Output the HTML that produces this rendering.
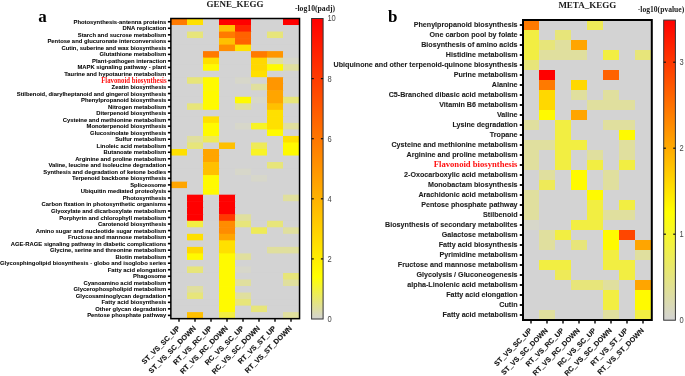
<!DOCTYPE html>
<html><head><meta charset="utf-8"><style>
html,body{margin:0;padding:0;background:#fff;width:685px;height:376px;overflow:hidden;}
body{position:relative;font-family:"Liberation Sans",sans-serif;}
</style></head><body>
<svg width="685" height="376" viewBox="0 0 685 376" style="position:absolute;left:0;top:0;will-change:transform">
<defs>
<linearGradient id="gl" x1="0" y1="1" x2="0" y2="0"><stop offset="0" stop-color="#d3d3d3"/><stop offset="0.14" stop-color="#ffff00"/><stop offset="1" stop-color="#ff0000"/></linearGradient>
<linearGradient id="gr" x1="0" y1="1" x2="0" y2="0"><stop offset="0" stop-color="#d3d3d3"/><stop offset="0.36" stop-color="#ffff00"/><stop offset="1" stop-color="#ff0000"/></linearGradient>
</defs>
<rect x="171.0" y="18.5" width="128.00" height="300.15" fill="#d3d3d3"/>
<rect x="171.00" y="18.50" width="16.60" height="7.12" fill="#ff7a00"/>
<rect x="187.00" y="18.50" width="16.60" height="7.12" fill="#ffe000"/>
<rect x="203.00" y="18.50" width="16.60" height="7.12" fill="#d3d3d3"/>
<rect x="219.00" y="18.50" width="16.60" height="7.12" fill="#ff0000"/>
<rect x="235.00" y="18.50" width="16.60" height="7.12" fill="#ff0000"/>
<rect x="251.00" y="18.50" width="16.60" height="7.12" fill="#d3d3d3"/>
<rect x="267.00" y="18.50" width="16.60" height="7.12" fill="#d3d3d3"/>
<rect x="283.00" y="18.50" width="16.60" height="7.12" fill="#ff0000"/>
<rect x="171.00" y="25.02" width="16.60" height="7.12" fill="#d3d3d3"/>
<rect x="187.00" y="25.02" width="16.60" height="7.12" fill="#d3d3d3"/>
<rect x="203.00" y="25.02" width="16.60" height="7.12" fill="#d3d3d3"/>
<rect x="219.00" y="25.02" width="16.60" height="7.12" fill="#ffc000"/>
<rect x="235.00" y="25.02" width="16.60" height="7.12" fill="#ff2400"/>
<rect x="251.00" y="25.02" width="16.60" height="7.12" fill="#d3d3d3"/>
<rect x="267.00" y="25.02" width="16.60" height="7.12" fill="#d3d3d3"/>
<rect x="283.00" y="25.02" width="16.60" height="7.12" fill="#d3d3d3"/>
<rect x="171.00" y="31.55" width="16.60" height="7.12" fill="#d3d3d3"/>
<rect x="187.00" y="31.55" width="16.60" height="7.12" fill="#e7e57a"/>
<rect x="203.00" y="31.55" width="16.60" height="7.12" fill="#d3d3d3"/>
<rect x="219.00" y="31.55" width="16.60" height="7.12" fill="#ff7a00"/>
<rect x="235.00" y="31.55" width="16.60" height="7.12" fill="#ff6200"/>
<rect x="251.00" y="31.55" width="16.60" height="7.12" fill="#d3d3d3"/>
<rect x="267.00" y="31.55" width="16.60" height="7.12" fill="#e7e57a"/>
<rect x="283.00" y="31.55" width="16.60" height="7.12" fill="#d3d3d3"/>
<rect x="171.00" y="38.08" width="16.60" height="7.12" fill="#d3d3d3"/>
<rect x="187.00" y="38.08" width="16.60" height="7.12" fill="#d3d3d3"/>
<rect x="203.00" y="38.08" width="16.60" height="7.12" fill="#d3d3d3"/>
<rect x="219.00" y="38.08" width="16.60" height="7.12" fill="#ffc000"/>
<rect x="235.00" y="38.08" width="16.60" height="7.12" fill="#ff6200"/>
<rect x="251.00" y="38.08" width="16.60" height="7.12" fill="#d3d3d3"/>
<rect x="267.00" y="38.08" width="16.60" height="7.12" fill="#d3d3d3"/>
<rect x="283.00" y="38.08" width="16.60" height="7.12" fill="#d3d3d3"/>
<rect x="171.00" y="44.60" width="16.60" height="7.12" fill="#d3d3d3"/>
<rect x="187.00" y="44.60" width="16.60" height="7.12" fill="#d3d3d3"/>
<rect x="203.00" y="44.60" width="16.60" height="7.12" fill="#d3d3d3"/>
<rect x="219.00" y="44.60" width="16.60" height="7.12" fill="#ff8c00"/>
<rect x="235.00" y="44.60" width="16.60" height="7.12" fill="#ffe000"/>
<rect x="251.00" y="44.60" width="16.60" height="7.12" fill="#d3d3d3"/>
<rect x="267.00" y="44.60" width="16.60" height="7.12" fill="#d3d3d3"/>
<rect x="283.00" y="44.60" width="16.60" height="7.12" fill="#d3d3d3"/>
<rect x="171.00" y="51.12" width="16.60" height="7.12" fill="#d3d3d3"/>
<rect x="187.00" y="51.12" width="16.60" height="7.12" fill="#d3d3d3"/>
<rect x="203.00" y="51.12" width="16.60" height="7.12" fill="#ff7a00"/>
<rect x="219.00" y="51.12" width="16.60" height="7.12" fill="#d3d3d3"/>
<rect x="235.00" y="51.12" width="16.60" height="7.12" fill="#d3d3d3"/>
<rect x="251.00" y="51.12" width="16.60" height="7.12" fill="#ff7a00"/>
<rect x="267.00" y="51.12" width="16.60" height="7.12" fill="#ff9600"/>
<rect x="283.00" y="51.12" width="16.60" height="7.12" fill="#d3d3d3"/>
<rect x="171.00" y="57.65" width="16.60" height="7.12" fill="#d3d3d3"/>
<rect x="187.00" y="57.65" width="16.60" height="7.12" fill="#d3d3d3"/>
<rect x="203.00" y="57.65" width="16.60" height="7.12" fill="#ffe000"/>
<rect x="219.00" y="57.65" width="16.60" height="7.12" fill="#d3d3d3"/>
<rect x="235.00" y="57.65" width="16.60" height="7.12" fill="#d3d3d3"/>
<rect x="251.00" y="57.65" width="16.60" height="7.12" fill="#ffd800"/>
<rect x="267.00" y="57.65" width="16.60" height="7.12" fill="#e0df9e"/>
<rect x="283.00" y="57.65" width="16.60" height="7.12" fill="#d7d7ca"/>
<rect x="171.00" y="64.18" width="16.60" height="7.12" fill="#d3d3d3"/>
<rect x="187.00" y="64.18" width="16.60" height="7.12" fill="#d3d3d3"/>
<rect x="203.00" y="64.18" width="16.60" height="7.12" fill="#fffa00"/>
<rect x="219.00" y="64.18" width="16.60" height="7.12" fill="#d3d3d3"/>
<rect x="235.00" y="64.18" width="16.60" height="7.12" fill="#d3d3d3"/>
<rect x="251.00" y="64.18" width="16.60" height="7.12" fill="#ffd800"/>
<rect x="267.00" y="64.18" width="16.60" height="7.12" fill="#fffa00"/>
<rect x="283.00" y="64.18" width="16.60" height="7.12" fill="#e0df9e"/>
<rect x="171.00" y="70.70" width="16.60" height="7.12" fill="#d3d3d3"/>
<rect x="187.00" y="70.70" width="16.60" height="7.12" fill="#d3d3d3"/>
<rect x="203.00" y="70.70" width="16.60" height="7.12" fill="#d3d3d3"/>
<rect x="219.00" y="70.70" width="16.60" height="7.12" fill="#d3d3d3"/>
<rect x="235.00" y="70.70" width="16.60" height="7.12" fill="#d3d3d3"/>
<rect x="251.00" y="70.70" width="16.60" height="7.12" fill="#ffe000"/>
<rect x="267.00" y="70.70" width="16.60" height="7.12" fill="#d3d3d3"/>
<rect x="283.00" y="70.70" width="16.60" height="7.12" fill="#d3d3d3"/>
<rect x="171.00" y="77.22" width="16.60" height="7.12" fill="#d3d3d3"/>
<rect x="187.00" y="77.22" width="16.60" height="7.12" fill="#e7e57a"/>
<rect x="203.00" y="77.22" width="16.60" height="7.12" fill="#fffa00"/>
<rect x="219.00" y="77.22" width="16.60" height="7.12" fill="#d3d3d3"/>
<rect x="235.00" y="77.22" width="16.60" height="7.12" fill="#d7d7ca"/>
<rect x="251.00" y="77.22" width="16.60" height="7.12" fill="#d3d3d3"/>
<rect x="267.00" y="77.22" width="16.60" height="7.12" fill="#ff9600"/>
<rect x="283.00" y="77.22" width="16.60" height="7.12" fill="#d3d3d3"/>
<rect x="171.00" y="83.75" width="16.60" height="7.12" fill="#d3d3d3"/>
<rect x="187.00" y="83.75" width="16.60" height="7.12" fill="#d3d3d3"/>
<rect x="203.00" y="83.75" width="16.60" height="7.12" fill="#fffa00"/>
<rect x="219.00" y="83.75" width="16.60" height="7.12" fill="#d3d3d3"/>
<rect x="235.00" y="83.75" width="16.60" height="7.12" fill="#d3d3d3"/>
<rect x="251.00" y="83.75" width="16.60" height="7.12" fill="#e0df9e"/>
<rect x="267.00" y="83.75" width="16.60" height="7.12" fill="#ff9600"/>
<rect x="283.00" y="83.75" width="16.60" height="7.12" fill="#d3d3d3"/>
<rect x="171.00" y="90.28" width="16.60" height="7.12" fill="#d3d3d3"/>
<rect x="187.00" y="90.28" width="16.60" height="7.12" fill="#d3d3d3"/>
<rect x="203.00" y="90.28" width="16.60" height="7.12" fill="#fffa00"/>
<rect x="219.00" y="90.28" width="16.60" height="7.12" fill="#d3d3d3"/>
<rect x="235.00" y="90.28" width="16.60" height="7.12" fill="#d3d3d3"/>
<rect x="251.00" y="90.28" width="16.60" height="7.12" fill="#d3d3d3"/>
<rect x="267.00" y="90.28" width="16.60" height="7.12" fill="#ffa500"/>
<rect x="283.00" y="90.28" width="16.60" height="7.12" fill="#d3d3d3"/>
<rect x="171.00" y="96.80" width="16.60" height="7.12" fill="#d3d3d3"/>
<rect x="187.00" y="96.80" width="16.60" height="7.12" fill="#d3d3d3"/>
<rect x="203.00" y="96.80" width="16.60" height="7.12" fill="#fffa00"/>
<rect x="219.00" y="96.80" width="16.60" height="7.12" fill="#d3d3d3"/>
<rect x="235.00" y="96.80" width="16.60" height="7.12" fill="#fffa00"/>
<rect x="251.00" y="96.80" width="16.60" height="7.12" fill="#d7d7ca"/>
<rect x="267.00" y="96.80" width="16.60" height="7.12" fill="#ffa500"/>
<rect x="283.00" y="96.80" width="16.60" height="7.12" fill="#e7e57a"/>
<rect x="171.00" y="103.33" width="16.60" height="7.12" fill="#d3d3d3"/>
<rect x="187.00" y="103.33" width="16.60" height="7.12" fill="#e7e57a"/>
<rect x="203.00" y="103.33" width="16.60" height="7.12" fill="#fffa00"/>
<rect x="219.00" y="103.33" width="16.60" height="7.12" fill="#d3d3d3"/>
<rect x="235.00" y="103.33" width="16.60" height="7.12" fill="#e0df9e"/>
<rect x="251.00" y="103.33" width="16.60" height="7.12" fill="#d3d3d3"/>
<rect x="267.00" y="103.33" width="16.60" height="7.12" fill="#ffc000"/>
<rect x="283.00" y="103.33" width="16.60" height="7.12" fill="#d3d3d3"/>
<rect x="171.00" y="109.85" width="16.60" height="7.12" fill="#d3d3d3"/>
<rect x="187.00" y="109.85" width="16.60" height="7.12" fill="#d3d3d3"/>
<rect x="203.00" y="109.85" width="16.60" height="7.12" fill="#d3d3d3"/>
<rect x="219.00" y="109.85" width="16.60" height="7.12" fill="#d3d3d3"/>
<rect x="235.00" y="109.85" width="16.60" height="7.12" fill="#d3d3d3"/>
<rect x="251.00" y="109.85" width="16.60" height="7.12" fill="#d3d3d3"/>
<rect x="267.00" y="109.85" width="16.60" height="7.12" fill="#ffe000"/>
<rect x="283.00" y="109.85" width="16.60" height="7.12" fill="#d3d3d3"/>
<rect x="171.00" y="116.38" width="16.60" height="7.12" fill="#d3d3d3"/>
<rect x="187.00" y="116.38" width="16.60" height="7.12" fill="#d3d3d3"/>
<rect x="203.00" y="116.38" width="16.60" height="7.12" fill="#ffe000"/>
<rect x="219.00" y="116.38" width="16.60" height="7.12" fill="#d3d3d3"/>
<rect x="235.00" y="116.38" width="16.60" height="7.12" fill="#d3d3d3"/>
<rect x="251.00" y="116.38" width="16.60" height="7.12" fill="#d3d3d3"/>
<rect x="267.00" y="116.38" width="16.60" height="7.12" fill="#ffe000"/>
<rect x="283.00" y="116.38" width="16.60" height="7.12" fill="#d3d3d3"/>
<rect x="171.00" y="122.90" width="16.60" height="7.12" fill="#d3d3d3"/>
<rect x="187.00" y="122.90" width="16.60" height="7.12" fill="#d3d3d3"/>
<rect x="203.00" y="122.90" width="16.60" height="7.12" fill="#fffa00"/>
<rect x="219.00" y="122.90" width="16.60" height="7.12" fill="#d3d3d3"/>
<rect x="235.00" y="122.90" width="16.60" height="7.12" fill="#d7d7ca"/>
<rect x="251.00" y="122.90" width="16.60" height="7.12" fill="#f8f326"/>
<rect x="267.00" y="122.90" width="16.60" height="7.12" fill="#ffe000"/>
<rect x="283.00" y="122.90" width="16.60" height="7.12" fill="#e0df9e"/>
<rect x="171.00" y="129.43" width="16.60" height="7.12" fill="#d3d3d3"/>
<rect x="187.00" y="129.43" width="16.60" height="7.12" fill="#d3d3d3"/>
<rect x="203.00" y="129.43" width="16.60" height="7.12" fill="#fffa00"/>
<rect x="219.00" y="129.43" width="16.60" height="7.12" fill="#d3d3d3"/>
<rect x="235.00" y="129.43" width="16.60" height="7.12" fill="#d3d3d3"/>
<rect x="251.00" y="129.43" width="16.60" height="7.12" fill="#d3d3d3"/>
<rect x="267.00" y="129.43" width="16.60" height="7.12" fill="#fffa00"/>
<rect x="283.00" y="129.43" width="16.60" height="7.12" fill="#d3d3d3"/>
<rect x="171.00" y="135.95" width="16.60" height="7.12" fill="#d3d3d3"/>
<rect x="187.00" y="135.95" width="16.60" height="7.12" fill="#e0df9e"/>
<rect x="203.00" y="135.95" width="16.60" height="7.12" fill="#eeea58"/>
<rect x="219.00" y="135.95" width="16.60" height="7.12" fill="#d3d3d3"/>
<rect x="235.00" y="135.95" width="16.60" height="7.12" fill="#d3d3d3"/>
<rect x="251.00" y="135.95" width="16.60" height="7.12" fill="#d3d3d3"/>
<rect x="267.00" y="135.95" width="16.60" height="7.12" fill="#d3d3d3"/>
<rect x="283.00" y="135.95" width="16.60" height="7.12" fill="#ffe000"/>
<rect x="171.00" y="142.48" width="16.60" height="7.12" fill="#d3d3d3"/>
<rect x="187.00" y="142.48" width="16.60" height="7.12" fill="#e7e57a"/>
<rect x="203.00" y="142.48" width="16.60" height="7.12" fill="#d3d3d3"/>
<rect x="219.00" y="142.48" width="16.60" height="7.12" fill="#ffc000"/>
<rect x="235.00" y="142.48" width="16.60" height="7.12" fill="#d3d3d3"/>
<rect x="251.00" y="142.48" width="16.60" height="7.12" fill="#eeea58"/>
<rect x="267.00" y="142.48" width="16.60" height="7.12" fill="#d3d3d3"/>
<rect x="283.00" y="142.48" width="16.60" height="7.12" fill="#fffa00"/>
<rect x="171.00" y="149.00" width="16.60" height="7.12" fill="#ffe000"/>
<rect x="187.00" y="149.00" width="16.60" height="7.12" fill="#d3d3d3"/>
<rect x="203.00" y="149.00" width="16.60" height="7.12" fill="#ffa500"/>
<rect x="219.00" y="149.00" width="16.60" height="7.12" fill="#d3d3d3"/>
<rect x="235.00" y="149.00" width="16.60" height="7.12" fill="#d3d3d3"/>
<rect x="251.00" y="149.00" width="16.60" height="7.12" fill="#f8f326"/>
<rect x="267.00" y="149.00" width="16.60" height="7.12" fill="#d3d3d3"/>
<rect x="283.00" y="149.00" width="16.60" height="7.12" fill="#fffa00"/>
<rect x="171.00" y="155.53" width="16.60" height="7.12" fill="#d3d3d3"/>
<rect x="187.00" y="155.53" width="16.60" height="7.12" fill="#d3d3d3"/>
<rect x="203.00" y="155.53" width="16.60" height="7.12" fill="#ffa500"/>
<rect x="219.00" y="155.53" width="16.60" height="7.12" fill="#d3d3d3"/>
<rect x="235.00" y="155.53" width="16.60" height="7.12" fill="#d3d3d3"/>
<rect x="251.00" y="155.53" width="16.60" height="7.12" fill="#d3d3d3"/>
<rect x="267.00" y="155.53" width="16.60" height="7.12" fill="#d3d3d3"/>
<rect x="283.00" y="155.53" width="16.60" height="7.12" fill="#d3d3d3"/>
<rect x="171.00" y="162.05" width="16.60" height="7.12" fill="#d3d3d3"/>
<rect x="187.00" y="162.05" width="16.60" height="7.12" fill="#d3d3d3"/>
<rect x="203.00" y="162.05" width="16.60" height="7.12" fill="#ffc000"/>
<rect x="219.00" y="162.05" width="16.60" height="7.12" fill="#d3d3d3"/>
<rect x="235.00" y="162.05" width="16.60" height="7.12" fill="#d3d3d3"/>
<rect x="251.00" y="162.05" width="16.60" height="7.12" fill="#d3d3d3"/>
<rect x="267.00" y="162.05" width="16.60" height="7.12" fill="#e7e57a"/>
<rect x="283.00" y="162.05" width="16.60" height="7.12" fill="#d3d3d3"/>
<rect x="171.00" y="168.58" width="16.60" height="7.12" fill="#d3d3d3"/>
<rect x="187.00" y="168.58" width="16.60" height="7.12" fill="#d3d3d3"/>
<rect x="203.00" y="168.58" width="16.60" height="7.12" fill="#ffc000"/>
<rect x="219.00" y="168.58" width="16.60" height="7.12" fill="#d3d3d3"/>
<rect x="235.00" y="168.58" width="16.60" height="7.12" fill="#d7d7ca"/>
<rect x="251.00" y="168.58" width="16.60" height="7.12" fill="#d3d3d3"/>
<rect x="267.00" y="168.58" width="16.60" height="7.12" fill="#d3d3d3"/>
<rect x="283.00" y="168.58" width="16.60" height="7.12" fill="#d3d3d3"/>
<rect x="171.00" y="175.10" width="16.60" height="7.12" fill="#d3d3d3"/>
<rect x="187.00" y="175.10" width="16.60" height="7.12" fill="#d3d3d3"/>
<rect x="203.00" y="175.10" width="16.60" height="7.12" fill="#fffa00"/>
<rect x="219.00" y="175.10" width="16.60" height="7.12" fill="#d3d3d3"/>
<rect x="235.00" y="175.10" width="16.60" height="7.12" fill="#d3d3d3"/>
<rect x="251.00" y="175.10" width="16.60" height="7.12" fill="#d7d7ca"/>
<rect x="267.00" y="175.10" width="16.60" height="7.12" fill="#d3d3d3"/>
<rect x="283.00" y="175.10" width="16.60" height="7.12" fill="#d3d3d3"/>
<rect x="171.00" y="181.62" width="16.60" height="7.12" fill="#ffa500"/>
<rect x="187.00" y="181.62" width="16.60" height="7.12" fill="#d3d3d3"/>
<rect x="203.00" y="181.62" width="16.60" height="7.12" fill="#fffa00"/>
<rect x="219.00" y="181.62" width="16.60" height="7.12" fill="#d3d3d3"/>
<rect x="235.00" y="181.62" width="16.60" height="7.12" fill="#d3d3d3"/>
<rect x="251.00" y="181.62" width="16.60" height="7.12" fill="#d3d3d3"/>
<rect x="267.00" y="181.62" width="16.60" height="7.12" fill="#d3d3d3"/>
<rect x="283.00" y="181.62" width="16.60" height="7.12" fill="#d3d3d3"/>
<rect x="171.00" y="188.15" width="16.60" height="7.12" fill="#d3d3d3"/>
<rect x="187.00" y="188.15" width="16.60" height="7.12" fill="#d3d3d3"/>
<rect x="203.00" y="188.15" width="16.60" height="7.12" fill="#fffa00"/>
<rect x="219.00" y="188.15" width="16.60" height="7.12" fill="#d3d3d3"/>
<rect x="235.00" y="188.15" width="16.60" height="7.12" fill="#d3d3d3"/>
<rect x="251.00" y="188.15" width="16.60" height="7.12" fill="#d3d3d3"/>
<rect x="267.00" y="188.15" width="16.60" height="7.12" fill="#d3d3d3"/>
<rect x="283.00" y="188.15" width="16.60" height="7.12" fill="#d3d3d3"/>
<rect x="171.00" y="194.68" width="16.60" height="7.12" fill="#d3d3d3"/>
<rect x="187.00" y="194.68" width="16.60" height="7.12" fill="#ff0000"/>
<rect x="203.00" y="194.68" width="16.60" height="7.12" fill="#d3d3d3"/>
<rect x="219.00" y="194.68" width="16.60" height="7.12" fill="#ff0000"/>
<rect x="235.00" y="194.68" width="16.60" height="7.12" fill="#d3d3d3"/>
<rect x="251.00" y="194.68" width="16.60" height="7.12" fill="#d3d3d3"/>
<rect x="267.00" y="194.68" width="16.60" height="7.12" fill="#d3d3d3"/>
<rect x="283.00" y="194.68" width="16.60" height="7.12" fill="#e0df9e"/>
<rect x="171.00" y="201.20" width="16.60" height="7.12" fill="#d3d3d3"/>
<rect x="187.00" y="201.20" width="16.60" height="7.12" fill="#ff0000"/>
<rect x="203.00" y="201.20" width="16.60" height="7.12" fill="#d3d3d3"/>
<rect x="219.00" y="201.20" width="16.60" height="7.12" fill="#ff0000"/>
<rect x="235.00" y="201.20" width="16.60" height="7.12" fill="#d3d3d3"/>
<rect x="251.00" y="201.20" width="16.60" height="7.12" fill="#d3d3d3"/>
<rect x="267.00" y="201.20" width="16.60" height="7.12" fill="#d3d3d3"/>
<rect x="283.00" y="201.20" width="16.60" height="7.12" fill="#d3d3d3"/>
<rect x="171.00" y="207.73" width="16.60" height="7.12" fill="#d3d3d3"/>
<rect x="187.00" y="207.73" width="16.60" height="7.12" fill="#ff0000"/>
<rect x="203.00" y="207.73" width="16.60" height="7.12" fill="#d3d3d3"/>
<rect x="219.00" y="207.73" width="16.60" height="7.12" fill="#ff0000"/>
<rect x="235.00" y="207.73" width="16.60" height="7.12" fill="#d3d3d3"/>
<rect x="251.00" y="207.73" width="16.60" height="7.12" fill="#d3d3d3"/>
<rect x="267.00" y="207.73" width="16.60" height="7.12" fill="#d3d3d3"/>
<rect x="283.00" y="207.73" width="16.60" height="7.12" fill="#d3d3d3"/>
<rect x="171.00" y="214.25" width="16.60" height="7.12" fill="#d3d3d3"/>
<rect x="187.00" y="214.25" width="16.60" height="7.12" fill="#ff0000"/>
<rect x="203.00" y="214.25" width="16.60" height="7.12" fill="#d3d3d3"/>
<rect x="219.00" y="214.25" width="16.60" height="7.12" fill="#ff3800"/>
<rect x="235.00" y="214.25" width="16.60" height="7.12" fill="#e0df9e"/>
<rect x="251.00" y="214.25" width="16.60" height="7.12" fill="#d3d3d3"/>
<rect x="267.00" y="214.25" width="16.60" height="7.12" fill="#d3d3d3"/>
<rect x="283.00" y="214.25" width="16.60" height="7.12" fill="#d3d3d3"/>
<rect x="171.00" y="220.78" width="16.60" height="7.12" fill="#d3d3d3"/>
<rect x="187.00" y="220.78" width="16.60" height="7.12" fill="#f2ee42"/>
<rect x="203.00" y="220.78" width="16.60" height="7.12" fill="#d3d3d3"/>
<rect x="219.00" y="220.78" width="16.60" height="7.12" fill="#ff8c00"/>
<rect x="235.00" y="220.78" width="16.60" height="7.12" fill="#e7e57a"/>
<rect x="251.00" y="220.78" width="16.60" height="7.12" fill="#d3d3d3"/>
<rect x="267.00" y="220.78" width="16.60" height="7.12" fill="#e7e57a"/>
<rect x="283.00" y="220.78" width="16.60" height="7.12" fill="#d3d3d3"/>
<rect x="171.00" y="227.30" width="16.60" height="7.12" fill="#d3d3d3"/>
<rect x="187.00" y="227.30" width="16.60" height="7.12" fill="#d3d3d3"/>
<rect x="203.00" y="227.30" width="16.60" height="7.12" fill="#d3d3d3"/>
<rect x="219.00" y="227.30" width="16.60" height="7.12" fill="#ff8c00"/>
<rect x="235.00" y="227.30" width="16.60" height="7.12" fill="#d3d3d3"/>
<rect x="251.00" y="227.30" width="16.60" height="7.12" fill="#eeea58"/>
<rect x="267.00" y="227.30" width="16.60" height="7.12" fill="#d3d3d3"/>
<rect x="283.00" y="227.30" width="16.60" height="7.12" fill="#e0df9e"/>
<rect x="171.00" y="233.83" width="16.60" height="7.12" fill="#d3d3d3"/>
<rect x="187.00" y="233.83" width="16.60" height="7.12" fill="#ffe000"/>
<rect x="203.00" y="233.83" width="16.60" height="7.12" fill="#d3d3d3"/>
<rect x="219.00" y="233.83" width="16.60" height="7.12" fill="#ffa500"/>
<rect x="235.00" y="233.83" width="16.60" height="7.12" fill="#d3d3d3"/>
<rect x="251.00" y="233.83" width="16.60" height="7.12" fill="#d3d3d3"/>
<rect x="267.00" y="233.83" width="16.60" height="7.12" fill="#d3d3d3"/>
<rect x="283.00" y="233.83" width="16.60" height="7.12" fill="#d3d3d3"/>
<rect x="171.00" y="240.35" width="16.60" height="7.12" fill="#d3d3d3"/>
<rect x="187.00" y="240.35" width="16.60" height="7.12" fill="#d3d3d3"/>
<rect x="203.00" y="240.35" width="16.60" height="7.12" fill="#d3d3d3"/>
<rect x="219.00" y="240.35" width="16.60" height="7.12" fill="#ffe000"/>
<rect x="235.00" y="240.35" width="16.60" height="7.12" fill="#d3d3d3"/>
<rect x="251.00" y="240.35" width="16.60" height="7.12" fill="#d3d3d3"/>
<rect x="267.00" y="240.35" width="16.60" height="7.12" fill="#d3d3d3"/>
<rect x="283.00" y="240.35" width="16.60" height="7.12" fill="#d3d3d3"/>
<rect x="171.00" y="246.88" width="16.60" height="7.12" fill="#d3d3d3"/>
<rect x="187.00" y="246.88" width="16.60" height="7.12" fill="#ffd800"/>
<rect x="203.00" y="246.88" width="16.60" height="7.12" fill="#d3d3d3"/>
<rect x="219.00" y="246.88" width="16.60" height="7.12" fill="#ffe000"/>
<rect x="235.00" y="246.88" width="16.60" height="7.12" fill="#d3d3d3"/>
<rect x="251.00" y="246.88" width="16.60" height="7.12" fill="#d3d3d3"/>
<rect x="267.00" y="246.88" width="16.60" height="7.12" fill="#e0df9e"/>
<rect x="283.00" y="246.88" width="16.60" height="7.12" fill="#e0df9e"/>
<rect x="171.00" y="253.40" width="16.60" height="7.12" fill="#d3d3d3"/>
<rect x="187.00" y="253.40" width="16.60" height="7.12" fill="#fffa00"/>
<rect x="203.00" y="253.40" width="16.60" height="7.12" fill="#d3d3d3"/>
<rect x="219.00" y="253.40" width="16.60" height="7.12" fill="#fffa00"/>
<rect x="235.00" y="253.40" width="16.60" height="7.12" fill="#e0df9e"/>
<rect x="251.00" y="253.40" width="16.60" height="7.12" fill="#d3d3d3"/>
<rect x="267.00" y="253.40" width="16.60" height="7.12" fill="#d3d3d3"/>
<rect x="283.00" y="253.40" width="16.60" height="7.12" fill="#d3d3d3"/>
<rect x="171.00" y="259.93" width="16.60" height="7.12" fill="#d3d3d3"/>
<rect x="187.00" y="259.93" width="16.60" height="7.12" fill="#d3d3d3"/>
<rect x="203.00" y="259.93" width="16.60" height="7.12" fill="#d3d3d3"/>
<rect x="219.00" y="259.93" width="16.60" height="7.12" fill="#fffa00"/>
<rect x="235.00" y="259.93" width="16.60" height="7.12" fill="#d3d3d3"/>
<rect x="251.00" y="259.93" width="16.60" height="7.12" fill="#d3d3d3"/>
<rect x="267.00" y="259.93" width="16.60" height="7.12" fill="#d3d3d3"/>
<rect x="283.00" y="259.93" width="16.60" height="7.12" fill="#d3d3d3"/>
<rect x="171.00" y="266.45" width="16.60" height="7.12" fill="#d3d3d3"/>
<rect x="187.00" y="266.45" width="16.60" height="7.12" fill="#e7e57a"/>
<rect x="203.00" y="266.45" width="16.60" height="7.12" fill="#d3d3d3"/>
<rect x="219.00" y="266.45" width="16.60" height="7.12" fill="#fffa00"/>
<rect x="235.00" y="266.45" width="16.60" height="7.12" fill="#d7d7ca"/>
<rect x="251.00" y="266.45" width="16.60" height="7.12" fill="#d3d3d3"/>
<rect x="267.00" y="266.45" width="16.60" height="7.12" fill="#d3d3d3"/>
<rect x="283.00" y="266.45" width="16.60" height="7.12" fill="#d3d3d3"/>
<rect x="171.00" y="272.98" width="16.60" height="7.12" fill="#d3d3d3"/>
<rect x="187.00" y="272.98" width="16.60" height="7.12" fill="#d3d3d3"/>
<rect x="203.00" y="272.98" width="16.60" height="7.12" fill="#d3d3d3"/>
<rect x="219.00" y="272.98" width="16.60" height="7.12" fill="#fffa00"/>
<rect x="235.00" y="272.98" width="16.60" height="7.12" fill="#d3d3d3"/>
<rect x="251.00" y="272.98" width="16.60" height="7.12" fill="#d3d3d3"/>
<rect x="267.00" y="272.98" width="16.60" height="7.12" fill="#d3d3d3"/>
<rect x="283.00" y="272.98" width="16.60" height="7.12" fill="#e7e57a"/>
<rect x="171.00" y="279.50" width="16.60" height="7.12" fill="#d3d3d3"/>
<rect x="187.00" y="279.50" width="16.60" height="7.12" fill="#d3d3d3"/>
<rect x="203.00" y="279.50" width="16.60" height="7.12" fill="#d3d3d3"/>
<rect x="219.00" y="279.50" width="16.60" height="7.12" fill="#fffa00"/>
<rect x="235.00" y="279.50" width="16.60" height="7.12" fill="#e0df9e"/>
<rect x="251.00" y="279.50" width="16.60" height="7.12" fill="#d3d3d3"/>
<rect x="267.00" y="279.50" width="16.60" height="7.12" fill="#d3d3d3"/>
<rect x="283.00" y="279.50" width="16.60" height="7.12" fill="#e0df9e"/>
<rect x="171.00" y="286.03" width="16.60" height="7.12" fill="#d3d3d3"/>
<rect x="187.00" y="286.03" width="16.60" height="7.12" fill="#e0df9e"/>
<rect x="203.00" y="286.03" width="16.60" height="7.12" fill="#d3d3d3"/>
<rect x="219.00" y="286.03" width="16.60" height="7.12" fill="#fffa00"/>
<rect x="235.00" y="286.03" width="16.60" height="7.12" fill="#d3d3d3"/>
<rect x="251.00" y="286.03" width="16.60" height="7.12" fill="#d3d3d3"/>
<rect x="267.00" y="286.03" width="16.60" height="7.12" fill="#d3d3d3"/>
<rect x="283.00" y="286.03" width="16.60" height="7.12" fill="#d3d3d3"/>
<rect x="171.00" y="292.55" width="16.60" height="7.12" fill="#d3d3d3"/>
<rect x="187.00" y="292.55" width="16.60" height="7.12" fill="#e7e57a"/>
<rect x="203.00" y="292.55" width="16.60" height="7.12" fill="#d3d3d3"/>
<rect x="219.00" y="292.55" width="16.60" height="7.12" fill="#fffa00"/>
<rect x="235.00" y="292.55" width="16.60" height="7.12" fill="#e0df9e"/>
<rect x="251.00" y="292.55" width="16.60" height="7.12" fill="#d3d3d3"/>
<rect x="267.00" y="292.55" width="16.60" height="7.12" fill="#d3d3d3"/>
<rect x="283.00" y="292.55" width="16.60" height="7.12" fill="#d3d3d3"/>
<rect x="171.00" y="299.07" width="16.60" height="7.12" fill="#d3d3d3"/>
<rect x="187.00" y="299.07" width="16.60" height="7.12" fill="#d3d3d3"/>
<rect x="203.00" y="299.07" width="16.60" height="7.12" fill="#d3d3d3"/>
<rect x="219.00" y="299.07" width="16.60" height="7.12" fill="#fffa00"/>
<rect x="235.00" y="299.07" width="16.60" height="7.12" fill="#e7e57a"/>
<rect x="251.00" y="299.07" width="16.60" height="7.12" fill="#d3d3d3"/>
<rect x="267.00" y="299.07" width="16.60" height="7.12" fill="#d3d3d3"/>
<rect x="283.00" y="299.07" width="16.60" height="7.12" fill="#d3d3d3"/>
<rect x="171.00" y="305.60" width="16.60" height="7.12" fill="#d3d3d3"/>
<rect x="187.00" y="305.60" width="16.60" height="7.12" fill="#d3d3d3"/>
<rect x="203.00" y="305.60" width="16.60" height="7.12" fill="#d3d3d3"/>
<rect x="219.00" y="305.60" width="16.60" height="7.12" fill="#fffa00"/>
<rect x="235.00" y="305.60" width="16.60" height="7.12" fill="#d3d3d3"/>
<rect x="251.00" y="305.60" width="16.60" height="7.12" fill="#e7e57a"/>
<rect x="267.00" y="305.60" width="16.60" height="7.12" fill="#d3d3d3"/>
<rect x="283.00" y="305.60" width="16.60" height="7.12" fill="#d3d3d3"/>
<rect x="171.00" y="312.12" width="16.60" height="7.12" fill="#d3d3d3"/>
<rect x="187.00" y="312.12" width="16.60" height="7.12" fill="#ffc000"/>
<rect x="203.00" y="312.12" width="16.60" height="7.12" fill="#d3d3d3"/>
<rect x="219.00" y="312.12" width="16.60" height="7.12" fill="#f2ee42"/>
<rect x="235.00" y="312.12" width="16.60" height="7.12" fill="#d3d3d3"/>
<rect x="251.00" y="312.12" width="16.60" height="7.12" fill="#d3d3d3"/>
<rect x="267.00" y="312.12" width="16.60" height="7.12" fill="#d3d3d3"/>
<rect x="283.00" y="312.12" width="16.60" height="7.12" fill="#e0df9e"/>
<rect x="170.85" y="18.50" width="128.7" height="300.15" fill="none" stroke="#000" stroke-width="1.5"/>
<line x1="167.90" y1="21.76" x2="171.00" y2="21.76" stroke="#000" stroke-width="1.6"/>
<text x="166.3" y="23.76" text-anchor="end" font-family="Liberation Sans" font-weight="bold" font-size="5.86" fill="#000" stroke="#000" stroke-width="0.05">Photosynthesis-antenna proteins</text>
<line x1="167.90" y1="28.29" x2="171.00" y2="28.29" stroke="#000" stroke-width="1.6"/>
<text x="166.3" y="30.29" text-anchor="end" font-family="Liberation Sans" font-weight="bold" font-size="5.86" fill="#000" stroke="#000" stroke-width="0.05">DNA replication</text>
<line x1="167.90" y1="34.81" x2="171.00" y2="34.81" stroke="#000" stroke-width="1.6"/>
<text x="166.3" y="36.81" text-anchor="end" font-family="Liberation Sans" font-weight="bold" font-size="5.86" fill="#000" stroke="#000" stroke-width="0.05">Starch and sucrose metabolism</text>
<line x1="167.90" y1="41.34" x2="171.00" y2="41.34" stroke="#000" stroke-width="1.6"/>
<text x="166.3" y="43.34" text-anchor="end" font-family="Liberation Sans" font-weight="bold" font-size="5.86" fill="#000" stroke="#000" stroke-width="0.05">Pentose and glucuronate interconversions</text>
<line x1="167.90" y1="47.86" x2="171.00" y2="47.86" stroke="#000" stroke-width="1.6"/>
<text x="166.3" y="49.86" text-anchor="end" font-family="Liberation Sans" font-weight="bold" font-size="5.86" fill="#000" stroke="#000" stroke-width="0.05">Cutin, suberine and wax biosynthesis</text>
<line x1="167.90" y1="54.39" x2="171.00" y2="54.39" stroke="#000" stroke-width="1.6"/>
<text x="166.3" y="56.39" text-anchor="end" font-family="Liberation Sans" font-weight="bold" font-size="5.86" fill="#000" stroke="#000" stroke-width="0.05">Glutathione metabolism</text>
<line x1="167.90" y1="60.91" x2="171.00" y2="60.91" stroke="#000" stroke-width="1.6"/>
<text x="166.3" y="62.91" text-anchor="end" font-family="Liberation Sans" font-weight="bold" font-size="5.86" fill="#000" stroke="#000" stroke-width="0.05">Plant-pathogen interaction</text>
<line x1="167.90" y1="67.44" x2="171.00" y2="67.44" stroke="#000" stroke-width="1.6"/>
<text x="166.3" y="69.44" text-anchor="end" font-family="Liberation Sans" font-weight="bold" font-size="5.86" fill="#000" stroke="#000" stroke-width="0.05">MAPK signaling pathway - plant</text>
<line x1="167.90" y1="73.96" x2="171.00" y2="73.96" stroke="#000" stroke-width="1.6"/>
<text x="166.3" y="75.96" text-anchor="end" font-family="Liberation Sans" font-weight="bold" font-size="5.86" fill="#000" stroke="#000" stroke-width="0.05">Taurine and hypotaurine metabolism</text>
<line x1="167.90" y1="80.49" x2="171.00" y2="80.49" stroke="#000" stroke-width="1.6"/>
<g transform="translate(166.6,82.59) scale(0.9,1)"><text x="0" y="0" text-anchor="end" font-family="Liberation Serif" font-weight="bold" font-size="7.5" fill="#ff1010">Flavonoid biosynthesis</text></g>
<line x1="167.90" y1="87.01" x2="171.00" y2="87.01" stroke="#000" stroke-width="1.6"/>
<text x="166.3" y="89.01" text-anchor="end" font-family="Liberation Sans" font-weight="bold" font-size="5.86" fill="#000" stroke="#000" stroke-width="0.05">Zeatin biosynthesis</text>
<line x1="167.90" y1="93.54" x2="171.00" y2="93.54" stroke="#000" stroke-width="1.6"/>
<text x="166.3" y="95.54" text-anchor="end" font-family="Liberation Sans" font-weight="bold" font-size="5.86" fill="#000" stroke="#000" stroke-width="0.05">Stilbenoid, diarylheptanoid and gingerol biosynthesis</text>
<line x1="167.90" y1="100.06" x2="171.00" y2="100.06" stroke="#000" stroke-width="1.6"/>
<text x="166.3" y="102.06" text-anchor="end" font-family="Liberation Sans" font-weight="bold" font-size="5.86" fill="#000" stroke="#000" stroke-width="0.05">Phenylpropanoid biosynthesis</text>
<line x1="167.90" y1="106.59" x2="171.00" y2="106.59" stroke="#000" stroke-width="1.6"/>
<text x="166.3" y="108.59" text-anchor="end" font-family="Liberation Sans" font-weight="bold" font-size="5.86" fill="#000" stroke="#000" stroke-width="0.05">Nitrogen metabolism</text>
<line x1="167.90" y1="113.11" x2="171.00" y2="113.11" stroke="#000" stroke-width="1.6"/>
<text x="166.3" y="115.11" text-anchor="end" font-family="Liberation Sans" font-weight="bold" font-size="5.86" fill="#000" stroke="#000" stroke-width="0.05">Diterpenoid biosynthesis</text>
<line x1="167.90" y1="119.64" x2="171.00" y2="119.64" stroke="#000" stroke-width="1.6"/>
<text x="166.3" y="121.64" text-anchor="end" font-family="Liberation Sans" font-weight="bold" font-size="5.86" fill="#000" stroke="#000" stroke-width="0.05">Cysteine and methionine metabolism</text>
<line x1="167.90" y1="126.16" x2="171.00" y2="126.16" stroke="#000" stroke-width="1.6"/>
<text x="166.3" y="128.16" text-anchor="end" font-family="Liberation Sans" font-weight="bold" font-size="5.86" fill="#000" stroke="#000" stroke-width="0.05">Monoterpenoid biosynthesis</text>
<line x1="167.90" y1="132.69" x2="171.00" y2="132.69" stroke="#000" stroke-width="1.6"/>
<text x="166.3" y="134.69" text-anchor="end" font-family="Liberation Sans" font-weight="bold" font-size="5.86" fill="#000" stroke="#000" stroke-width="0.05">Glucosinolate biosynthesis</text>
<line x1="167.90" y1="139.21" x2="171.00" y2="139.21" stroke="#000" stroke-width="1.6"/>
<text x="166.3" y="141.21" text-anchor="end" font-family="Liberation Sans" font-weight="bold" font-size="5.86" fill="#000" stroke="#000" stroke-width="0.05">Sulfur metabolism</text>
<line x1="167.90" y1="145.74" x2="171.00" y2="145.74" stroke="#000" stroke-width="1.6"/>
<text x="166.3" y="147.74" text-anchor="end" font-family="Liberation Sans" font-weight="bold" font-size="5.86" fill="#000" stroke="#000" stroke-width="0.05">Linoleic acid metabolism</text>
<line x1="167.90" y1="152.26" x2="171.00" y2="152.26" stroke="#000" stroke-width="1.6"/>
<text x="166.3" y="154.26" text-anchor="end" font-family="Liberation Sans" font-weight="bold" font-size="5.86" fill="#000" stroke="#000" stroke-width="0.05">Butanoate metabolism</text>
<line x1="167.90" y1="158.79" x2="171.00" y2="158.79" stroke="#000" stroke-width="1.6"/>
<text x="166.3" y="160.79" text-anchor="end" font-family="Liberation Sans" font-weight="bold" font-size="5.86" fill="#000" stroke="#000" stroke-width="0.05">Arginine and proline metabolism</text>
<line x1="167.90" y1="165.31" x2="171.00" y2="165.31" stroke="#000" stroke-width="1.6"/>
<text x="166.3" y="167.31" text-anchor="end" font-family="Liberation Sans" font-weight="bold" font-size="5.86" fill="#000" stroke="#000" stroke-width="0.05">Valine, leucine and isoleucine degradation</text>
<line x1="167.90" y1="171.84" x2="171.00" y2="171.84" stroke="#000" stroke-width="1.6"/>
<text x="166.3" y="173.84" text-anchor="end" font-family="Liberation Sans" font-weight="bold" font-size="5.86" fill="#000" stroke="#000" stroke-width="0.05">Synthesis and degradation of ketone bodies</text>
<line x1="167.90" y1="178.36" x2="171.00" y2="178.36" stroke="#000" stroke-width="1.6"/>
<text x="166.3" y="180.36" text-anchor="end" font-family="Liberation Sans" font-weight="bold" font-size="5.86" fill="#000" stroke="#000" stroke-width="0.05">Terpenoid backbone biosynthesis</text>
<line x1="167.90" y1="184.89" x2="171.00" y2="184.89" stroke="#000" stroke-width="1.6"/>
<text x="166.3" y="186.89" text-anchor="end" font-family="Liberation Sans" font-weight="bold" font-size="5.86" fill="#000" stroke="#000" stroke-width="0.05">Spliceosome</text>
<line x1="167.90" y1="191.41" x2="171.00" y2="191.41" stroke="#000" stroke-width="1.6"/>
<text x="166.3" y="193.41" text-anchor="end" font-family="Liberation Sans" font-weight="bold" font-size="5.86" fill="#000" stroke="#000" stroke-width="0.05">Ubiquitin mediated proteolysis</text>
<line x1="167.90" y1="197.94" x2="171.00" y2="197.94" stroke="#000" stroke-width="1.6"/>
<text x="166.3" y="199.94" text-anchor="end" font-family="Liberation Sans" font-weight="bold" font-size="5.86" fill="#000" stroke="#000" stroke-width="0.05">Photosynthesis</text>
<line x1="167.90" y1="204.46" x2="171.00" y2="204.46" stroke="#000" stroke-width="1.6"/>
<text x="166.3" y="206.46" text-anchor="end" font-family="Liberation Sans" font-weight="bold" font-size="5.86" fill="#000" stroke="#000" stroke-width="0.05">Carbon fixation in photosynthetic organisms</text>
<line x1="167.90" y1="210.99" x2="171.00" y2="210.99" stroke="#000" stroke-width="1.6"/>
<text x="166.3" y="212.99" text-anchor="end" font-family="Liberation Sans" font-weight="bold" font-size="5.86" fill="#000" stroke="#000" stroke-width="0.05">Glyoxylate and dicarboxylate metabolism</text>
<line x1="167.90" y1="217.51" x2="171.00" y2="217.51" stroke="#000" stroke-width="1.6"/>
<text x="166.3" y="219.51" text-anchor="end" font-family="Liberation Sans" font-weight="bold" font-size="5.86" fill="#000" stroke="#000" stroke-width="0.05">Porphyrin and chlorophyll metabolism</text>
<line x1="167.90" y1="224.04" x2="171.00" y2="224.04" stroke="#000" stroke-width="1.6"/>
<text x="166.3" y="226.04" text-anchor="end" font-family="Liberation Sans" font-weight="bold" font-size="5.86" fill="#000" stroke="#000" stroke-width="0.05">Carotenoid biosynthesis</text>
<line x1="167.90" y1="230.56" x2="171.00" y2="230.56" stroke="#000" stroke-width="1.6"/>
<text x="166.3" y="232.56" text-anchor="end" font-family="Liberation Sans" font-weight="bold" font-size="5.86" fill="#000" stroke="#000" stroke-width="0.05">Amino sugar and nucleotide sugar metabolism</text>
<line x1="167.90" y1="237.09" x2="171.00" y2="237.09" stroke="#000" stroke-width="1.6"/>
<text x="166.3" y="239.09" text-anchor="end" font-family="Liberation Sans" font-weight="bold" font-size="5.86" fill="#000" stroke="#000" stroke-width="0.05">Fructose and mannose metabolism</text>
<line x1="167.90" y1="243.61" x2="171.00" y2="243.61" stroke="#000" stroke-width="1.6"/>
<text x="166.3" y="245.61" text-anchor="end" font-family="Liberation Sans" font-weight="bold" font-size="5.86" fill="#000" stroke="#000" stroke-width="0.05">AGE-RAGE signaling pathway in diabetic complications</text>
<line x1="167.90" y1="250.14" x2="171.00" y2="250.14" stroke="#000" stroke-width="1.6"/>
<text x="166.3" y="252.14" text-anchor="end" font-family="Liberation Sans" font-weight="bold" font-size="5.86" fill="#000" stroke="#000" stroke-width="0.05">Glycine, serine and threonine metabolism</text>
<line x1="167.90" y1="256.66" x2="171.00" y2="256.66" stroke="#000" stroke-width="1.6"/>
<text x="166.3" y="258.66" text-anchor="end" font-family="Liberation Sans" font-weight="bold" font-size="5.86" fill="#000" stroke="#000" stroke-width="0.05">Biotin metabolism</text>
<line x1="167.90" y1="263.19" x2="171.00" y2="263.19" stroke="#000" stroke-width="1.6"/>
<text x="166.3" y="265.19" text-anchor="end" font-family="Liberation Sans" font-weight="bold" font-size="5.86" fill="#000" stroke="#000" stroke-width="0.05">Glycosphingolipid biosynthesis - globo and isoglobo series</text>
<line x1="167.90" y1="269.71" x2="171.00" y2="269.71" stroke="#000" stroke-width="1.6"/>
<text x="166.3" y="271.71" text-anchor="end" font-family="Liberation Sans" font-weight="bold" font-size="5.86" fill="#000" stroke="#000" stroke-width="0.05">Fatty acid elongation</text>
<line x1="167.90" y1="276.24" x2="171.00" y2="276.24" stroke="#000" stroke-width="1.6"/>
<text x="166.3" y="278.24" text-anchor="end" font-family="Liberation Sans" font-weight="bold" font-size="5.86" fill="#000" stroke="#000" stroke-width="0.05">Phagosome</text>
<line x1="167.90" y1="282.76" x2="171.00" y2="282.76" stroke="#000" stroke-width="1.6"/>
<text x="166.3" y="284.76" text-anchor="end" font-family="Liberation Sans" font-weight="bold" font-size="5.86" fill="#000" stroke="#000" stroke-width="0.05">Cyanoamino acid metabolism</text>
<line x1="167.90" y1="289.29" x2="171.00" y2="289.29" stroke="#000" stroke-width="1.6"/>
<text x="166.3" y="291.29" text-anchor="end" font-family="Liberation Sans" font-weight="bold" font-size="5.86" fill="#000" stroke="#000" stroke-width="0.05">Glycerophospholipid metabolism</text>
<line x1="167.90" y1="295.81" x2="171.00" y2="295.81" stroke="#000" stroke-width="1.6"/>
<text x="166.3" y="297.81" text-anchor="end" font-family="Liberation Sans" font-weight="bold" font-size="5.86" fill="#000" stroke="#000" stroke-width="0.05">Glycosaminoglycan degradation</text>
<line x1="167.90" y1="302.34" x2="171.00" y2="302.34" stroke="#000" stroke-width="1.6"/>
<text x="166.3" y="304.34" text-anchor="end" font-family="Liberation Sans" font-weight="bold" font-size="5.86" fill="#000" stroke="#000" stroke-width="0.05">Fatty acid biosynthesis</text>
<line x1="167.90" y1="308.86" x2="171.00" y2="308.86" stroke="#000" stroke-width="1.6"/>
<text x="166.3" y="310.86" text-anchor="end" font-family="Liberation Sans" font-weight="bold" font-size="5.86" fill="#000" stroke="#000" stroke-width="0.05">Other glycan degradation</text>
<line x1="167.90" y1="315.39" x2="171.00" y2="315.39" stroke="#000" stroke-width="1.6"/>
<text x="166.3" y="317.39" text-anchor="end" font-family="Liberation Sans" font-weight="bold" font-size="5.86" fill="#000" stroke="#000" stroke-width="0.05">Pentose phosphate pathway</text>
<line x1="179.00" y1="318.65" x2="179.00" y2="321.85" stroke="#000" stroke-width="1.4"/>
<text transform="translate(180.40,328.75) rotate(-45)" text-anchor="end" font-family="Liberation Sans" font-weight="bold" font-size="7.2" fill="#111" stroke="#111" stroke-width="0.12">ST_VS_SC_UP</text>
<line x1="195.00" y1="318.65" x2="195.00" y2="321.85" stroke="#000" stroke-width="1.4"/>
<text transform="translate(196.40,328.75) rotate(-45)" text-anchor="end" font-family="Liberation Sans" font-weight="bold" font-size="7.2" fill="#111" stroke="#111" stroke-width="0.12">ST_VS_SC_DOWN</text>
<line x1="211.00" y1="318.65" x2="211.00" y2="321.85" stroke="#000" stroke-width="1.4"/>
<text transform="translate(212.40,328.75) rotate(-45)" text-anchor="end" font-family="Liberation Sans" font-weight="bold" font-size="7.2" fill="#111" stroke="#111" stroke-width="0.12">RT_VS_RC_UP</text>
<line x1="227.00" y1="318.65" x2="227.00" y2="321.85" stroke="#000" stroke-width="1.4"/>
<text transform="translate(228.40,328.75) rotate(-45)" text-anchor="end" font-family="Liberation Sans" font-weight="bold" font-size="7.2" fill="#111" stroke="#111" stroke-width="0.12">RT_VS_RC_DOWN</text>
<line x1="243.00" y1="318.65" x2="243.00" y2="321.85" stroke="#000" stroke-width="1.4"/>
<text transform="translate(244.40,328.75) rotate(-45)" text-anchor="end" font-family="Liberation Sans" font-weight="bold" font-size="7.2" fill="#111" stroke="#111" stroke-width="0.12">RC_VS_SC_UP</text>
<line x1="259.00" y1="318.65" x2="259.00" y2="321.85" stroke="#000" stroke-width="1.4"/>
<text transform="translate(260.40,328.75) rotate(-45)" text-anchor="end" font-family="Liberation Sans" font-weight="bold" font-size="7.2" fill="#111" stroke="#111" stroke-width="0.12">RC_VS_SC_DOWN</text>
<line x1="275.00" y1="318.65" x2="275.00" y2="321.85" stroke="#000" stroke-width="1.4"/>
<text transform="translate(276.40,328.75) rotate(-45)" text-anchor="end" font-family="Liberation Sans" font-weight="bold" font-size="7.2" fill="#111" stroke="#111" stroke-width="0.12">RT_VS_ST_UP</text>
<line x1="291.00" y1="318.65" x2="291.00" y2="321.85" stroke="#000" stroke-width="1.4"/>
<text transform="translate(292.40,328.75) rotate(-45)" text-anchor="end" font-family="Liberation Sans" font-weight="bold" font-size="7.2" fill="#111" stroke="#111" stroke-width="0.12">RT_VS_ST_DOWN</text>
<text x="235.1" y="7.4" text-anchor="middle" font-family="Liberation Serif" font-weight="bold" font-size="9" fill="#1a1a1a">GENE_KEGG</text>
<text x="38.3" y="21.6" font-family="Liberation Serif" font-weight="bold" font-size="17" fill="#000">a</text>
<rect x="311.6" y="18.5" width="11.50" height="300.50" fill="url(#gl)" stroke="#333" stroke-width="1"/>
<text x="315" y="10.5" text-anchor="middle" font-family="Liberation Serif" font-weight="bold" font-size="7.7" fill="#1a1a1a">-log10(padj)</text>
<g transform="translate(327.4,321.90) scale(0.84,1)"><text x="0" y="0" font-family="Liberation Sans" font-size="9" fill="#444">0</text></g>
<line x1="311.6" y1="258.90" x2="313.8" y2="258.90" stroke="#111" stroke-width="1.2"/>
<line x1="320.90000000000003" y1="258.90" x2="323.1" y2="258.90" stroke="#111" stroke-width="1.2"/>
<g transform="translate(327.4,261.80) scale(0.84,1)"><text x="0" y="0" font-family="Liberation Sans" font-size="9" fill="#444">2</text></g>
<line x1="311.6" y1="198.80" x2="313.8" y2="198.80" stroke="#111" stroke-width="1.2"/>
<line x1="320.90000000000003" y1="198.80" x2="323.1" y2="198.80" stroke="#111" stroke-width="1.2"/>
<g transform="translate(327.4,201.70) scale(0.84,1)"><text x="0" y="0" font-family="Liberation Sans" font-size="9" fill="#444">4</text></g>
<line x1="311.6" y1="138.70" x2="313.8" y2="138.70" stroke="#111" stroke-width="1.2"/>
<line x1="320.90000000000003" y1="138.70" x2="323.1" y2="138.70" stroke="#111" stroke-width="1.2"/>
<g transform="translate(327.4,141.60) scale(0.84,1)"><text x="0" y="0" font-family="Liberation Sans" font-size="9" fill="#444">6</text></g>
<line x1="311.6" y1="78.60" x2="313.8" y2="78.60" stroke="#111" stroke-width="1.2"/>
<line x1="320.90000000000003" y1="78.60" x2="323.1" y2="78.60" stroke="#111" stroke-width="1.2"/>
<g transform="translate(327.4,81.50) scale(0.84,1)"><text x="0" y="0" font-family="Liberation Sans" font-size="9" fill="#444">8</text></g>
<g transform="translate(327.4,21.40) scale(0.84,1)"><text x="0" y="0" font-family="Liberation Sans" font-size="9" fill="#444">10</text></g>
<rect x="523.0" y="20.0" width="128.00" height="300.00" fill="#d3d3d3"/>
<rect x="523.00" y="20.00" width="16.60" height="10.60" fill="#ff7a00"/>
<rect x="539.00" y="20.00" width="16.60" height="10.60" fill="#d3d3d3"/>
<rect x="555.00" y="20.00" width="16.60" height="10.60" fill="#d3d3d3"/>
<rect x="571.00" y="20.00" width="16.60" height="10.60" fill="#d3d3d3"/>
<rect x="587.00" y="20.00" width="16.60" height="10.60" fill="#eeea58"/>
<rect x="603.00" y="20.00" width="16.60" height="10.60" fill="#d3d3d3"/>
<rect x="619.00" y="20.00" width="16.60" height="10.60" fill="#d3d3d3"/>
<rect x="635.00" y="20.00" width="16.60" height="10.60" fill="#d3d3d3"/>
<rect x="523.00" y="30.00" width="16.60" height="10.60" fill="#f2ee42"/>
<rect x="539.00" y="30.00" width="16.60" height="10.60" fill="#d3d3d3"/>
<rect x="555.00" y="30.00" width="16.60" height="10.60" fill="#e7e57a"/>
<rect x="571.00" y="30.00" width="16.60" height="10.60" fill="#d3d3d3"/>
<rect x="587.00" y="30.00" width="16.60" height="10.60" fill="#d3d3d3"/>
<rect x="603.00" y="30.00" width="16.60" height="10.60" fill="#d3d3d3"/>
<rect x="619.00" y="30.00" width="16.60" height="10.60" fill="#d3d3d3"/>
<rect x="635.00" y="30.00" width="16.60" height="10.60" fill="#d3d3d3"/>
<rect x="523.00" y="40.00" width="16.60" height="10.60" fill="#f2ee42"/>
<rect x="539.00" y="40.00" width="16.60" height="10.60" fill="#e7e57a"/>
<rect x="555.00" y="40.00" width="16.60" height="10.60" fill="#e0df9e"/>
<rect x="571.00" y="40.00" width="16.60" height="10.60" fill="#ffa500"/>
<rect x="587.00" y="40.00" width="16.60" height="10.60" fill="#d3d3d3"/>
<rect x="603.00" y="40.00" width="16.60" height="10.60" fill="#d3d3d3"/>
<rect x="619.00" y="40.00" width="16.60" height="10.60" fill="#d3d3d3"/>
<rect x="635.00" y="40.00" width="16.60" height="10.60" fill="#d3d3d3"/>
<rect x="523.00" y="50.00" width="16.60" height="10.60" fill="#f2ee42"/>
<rect x="539.00" y="50.00" width="16.60" height="10.60" fill="#e0df9e"/>
<rect x="555.00" y="50.00" width="16.60" height="10.60" fill="#e0df9e"/>
<rect x="571.00" y="50.00" width="16.60" height="10.60" fill="#e0df9e"/>
<rect x="587.00" y="50.00" width="16.60" height="10.60" fill="#d3d3d3"/>
<rect x="603.00" y="50.00" width="16.60" height="10.60" fill="#f2ee42"/>
<rect x="619.00" y="50.00" width="16.60" height="10.60" fill="#d3d3d3"/>
<rect x="635.00" y="50.00" width="16.60" height="10.60" fill="#e7e57a"/>
<rect x="523.00" y="60.00" width="16.60" height="10.60" fill="#e7e57a"/>
<rect x="539.00" y="60.00" width="16.60" height="10.60" fill="#d3d3d3"/>
<rect x="555.00" y="60.00" width="16.60" height="10.60" fill="#d3d3d3"/>
<rect x="571.00" y="60.00" width="16.60" height="10.60" fill="#d3d3d3"/>
<rect x="587.00" y="60.00" width="16.60" height="10.60" fill="#d3d3d3"/>
<rect x="603.00" y="60.00" width="16.60" height="10.60" fill="#d3d3d3"/>
<rect x="619.00" y="60.00" width="16.60" height="10.60" fill="#d3d3d3"/>
<rect x="635.00" y="60.00" width="16.60" height="10.60" fill="#d3d3d3"/>
<rect x="523.00" y="70.00" width="16.60" height="10.60" fill="#d3d3d3"/>
<rect x="539.00" y="70.00" width="16.60" height="10.60" fill="#ff0000"/>
<rect x="555.00" y="70.00" width="16.60" height="10.60" fill="#d3d3d3"/>
<rect x="571.00" y="70.00" width="16.60" height="10.60" fill="#d3d3d3"/>
<rect x="587.00" y="70.00" width="16.60" height="10.60" fill="#d3d3d3"/>
<rect x="603.00" y="70.00" width="16.60" height="10.60" fill="#ff6200"/>
<rect x="619.00" y="70.00" width="16.60" height="10.60" fill="#d3d3d3"/>
<rect x="635.00" y="70.00" width="16.60" height="10.60" fill="#d3d3d3"/>
<rect x="523.00" y="80.00" width="16.60" height="10.60" fill="#d3d3d3"/>
<rect x="539.00" y="80.00" width="16.60" height="10.60" fill="#ff7a00"/>
<rect x="555.00" y="80.00" width="16.60" height="10.60" fill="#d3d3d3"/>
<rect x="571.00" y="80.00" width="16.60" height="10.60" fill="#ffd800"/>
<rect x="587.00" y="80.00" width="16.60" height="10.60" fill="#d3d3d3"/>
<rect x="603.00" y="80.00" width="16.60" height="10.60" fill="#d3d3d3"/>
<rect x="619.00" y="80.00" width="16.60" height="10.60" fill="#d3d3d3"/>
<rect x="635.00" y="80.00" width="16.60" height="10.60" fill="#d3d3d3"/>
<rect x="523.00" y="90.00" width="16.60" height="10.60" fill="#d3d3d3"/>
<rect x="539.00" y="90.00" width="16.60" height="10.60" fill="#ffd800"/>
<rect x="555.00" y="90.00" width="16.60" height="10.60" fill="#d3d3d3"/>
<rect x="571.00" y="90.00" width="16.60" height="10.60" fill="#e0df9e"/>
<rect x="587.00" y="90.00" width="16.60" height="10.60" fill="#d3d3d3"/>
<rect x="603.00" y="90.00" width="16.60" height="10.60" fill="#e0df9e"/>
<rect x="619.00" y="90.00" width="16.60" height="10.60" fill="#d3d3d3"/>
<rect x="635.00" y="90.00" width="16.60" height="10.60" fill="#d3d3d3"/>
<rect x="523.00" y="100.00" width="16.60" height="10.60" fill="#d3d3d3"/>
<rect x="539.00" y="100.00" width="16.60" height="10.60" fill="#ffd800"/>
<rect x="555.00" y="100.00" width="16.60" height="10.60" fill="#d3d3d3"/>
<rect x="571.00" y="100.00" width="16.60" height="10.60" fill="#d3d3d3"/>
<rect x="587.00" y="100.00" width="16.60" height="10.60" fill="#e0df9e"/>
<rect x="603.00" y="100.00" width="16.60" height="10.60" fill="#e0df9e"/>
<rect x="619.00" y="100.00" width="16.60" height="10.60" fill="#e0df9e"/>
<rect x="635.00" y="100.00" width="16.60" height="10.60" fill="#d3d3d3"/>
<rect x="523.00" y="110.00" width="16.60" height="10.60" fill="#d3d3d3"/>
<rect x="539.00" y="110.00" width="16.60" height="10.60" fill="#fffa00"/>
<rect x="555.00" y="110.00" width="16.60" height="10.60" fill="#d3d3d3"/>
<rect x="571.00" y="110.00" width="16.60" height="10.60" fill="#ffa500"/>
<rect x="587.00" y="110.00" width="16.60" height="10.60" fill="#d3d3d3"/>
<rect x="603.00" y="110.00" width="16.60" height="10.60" fill="#d3d3d3"/>
<rect x="619.00" y="110.00" width="16.60" height="10.60" fill="#d3d3d3"/>
<rect x="635.00" y="110.00" width="16.60" height="10.60" fill="#d3d3d3"/>
<rect x="523.00" y="120.00" width="16.60" height="10.60" fill="#e0df9e"/>
<rect x="539.00" y="120.00" width="16.60" height="10.60" fill="#d3d3d3"/>
<rect x="555.00" y="120.00" width="16.60" height="10.60" fill="#f2ee42"/>
<rect x="571.00" y="120.00" width="16.60" height="10.60" fill="#d3d3d3"/>
<rect x="587.00" y="120.00" width="16.60" height="10.60" fill="#d3d3d3"/>
<rect x="603.00" y="120.00" width="16.60" height="10.60" fill="#e0df9e"/>
<rect x="619.00" y="120.00" width="16.60" height="10.60" fill="#e0df9e"/>
<rect x="635.00" y="120.00" width="16.60" height="10.60" fill="#d3d3d3"/>
<rect x="523.00" y="130.00" width="16.60" height="10.60" fill="#d3d3d3"/>
<rect x="539.00" y="130.00" width="16.60" height="10.60" fill="#d3d3d3"/>
<rect x="555.00" y="130.00" width="16.60" height="10.60" fill="#f2ee42"/>
<rect x="571.00" y="130.00" width="16.60" height="10.60" fill="#d3d3d3"/>
<rect x="587.00" y="130.00" width="16.60" height="10.60" fill="#d3d3d3"/>
<rect x="603.00" y="130.00" width="16.60" height="10.60" fill="#d3d3d3"/>
<rect x="619.00" y="130.00" width="16.60" height="10.60" fill="#fffa00"/>
<rect x="635.00" y="130.00" width="16.60" height="10.60" fill="#d3d3d3"/>
<rect x="523.00" y="140.00" width="16.60" height="10.60" fill="#e0df9e"/>
<rect x="539.00" y="140.00" width="16.60" height="10.60" fill="#e0df9e"/>
<rect x="555.00" y="140.00" width="16.60" height="10.60" fill="#f2ee42"/>
<rect x="571.00" y="140.00" width="16.60" height="10.60" fill="#f2ee42"/>
<rect x="587.00" y="140.00" width="16.60" height="10.60" fill="#d3d3d3"/>
<rect x="603.00" y="140.00" width="16.60" height="10.60" fill="#d3d3d3"/>
<rect x="619.00" y="140.00" width="16.60" height="10.60" fill="#e0df9e"/>
<rect x="635.00" y="140.00" width="16.60" height="10.60" fill="#d3d3d3"/>
<rect x="523.00" y="150.00" width="16.60" height="10.60" fill="#e0df9e"/>
<rect x="539.00" y="150.00" width="16.60" height="10.60" fill="#d3d3d3"/>
<rect x="555.00" y="150.00" width="16.60" height="10.60" fill="#f2ee42"/>
<rect x="571.00" y="150.00" width="16.60" height="10.60" fill="#d3d3d3"/>
<rect x="587.00" y="150.00" width="16.60" height="10.60" fill="#e0df9e"/>
<rect x="603.00" y="150.00" width="16.60" height="10.60" fill="#d3d3d3"/>
<rect x="619.00" y="150.00" width="16.60" height="10.60" fill="#e0df9e"/>
<rect x="635.00" y="150.00" width="16.60" height="10.60" fill="#d3d3d3"/>
<rect x="523.00" y="160.00" width="16.60" height="10.60" fill="#e0df9e"/>
<rect x="539.00" y="160.00" width="16.60" height="10.60" fill="#d3d3d3"/>
<rect x="555.00" y="160.00" width="16.60" height="10.60" fill="#f2ee42"/>
<rect x="571.00" y="160.00" width="16.60" height="10.60" fill="#d3d3d3"/>
<rect x="587.00" y="160.00" width="16.60" height="10.60" fill="#f2ee42"/>
<rect x="603.00" y="160.00" width="16.60" height="10.60" fill="#d3d3d3"/>
<rect x="619.00" y="160.00" width="16.60" height="10.60" fill="#f2ee42"/>
<rect x="635.00" y="160.00" width="16.60" height="10.60" fill="#d3d3d3"/>
<rect x="523.00" y="170.00" width="16.60" height="10.60" fill="#d3d3d3"/>
<rect x="539.00" y="170.00" width="16.60" height="10.60" fill="#e0df9e"/>
<rect x="555.00" y="170.00" width="16.60" height="10.60" fill="#d3d3d3"/>
<rect x="571.00" y="170.00" width="16.60" height="10.60" fill="#fffa00"/>
<rect x="587.00" y="170.00" width="16.60" height="10.60" fill="#d3d3d3"/>
<rect x="603.00" y="170.00" width="16.60" height="10.60" fill="#e0df9e"/>
<rect x="619.00" y="170.00" width="16.60" height="10.60" fill="#d3d3d3"/>
<rect x="635.00" y="170.00" width="16.60" height="10.60" fill="#d3d3d3"/>
<rect x="523.00" y="180.00" width="16.60" height="10.60" fill="#d3d3d3"/>
<rect x="539.00" y="180.00" width="16.60" height="10.60" fill="#eeea58"/>
<rect x="555.00" y="180.00" width="16.60" height="10.60" fill="#d3d3d3"/>
<rect x="571.00" y="180.00" width="16.60" height="10.60" fill="#fffa00"/>
<rect x="587.00" y="180.00" width="16.60" height="10.60" fill="#d3d3d3"/>
<rect x="603.00" y="180.00" width="16.60" height="10.60" fill="#e0df9e"/>
<rect x="619.00" y="180.00" width="16.60" height="10.60" fill="#d3d3d3"/>
<rect x="635.00" y="180.00" width="16.60" height="10.60" fill="#d3d3d3"/>
<rect x="523.00" y="190.00" width="16.60" height="10.60" fill="#e0df9e"/>
<rect x="539.00" y="190.00" width="16.60" height="10.60" fill="#d3d3d3"/>
<rect x="555.00" y="190.00" width="16.60" height="10.60" fill="#d3d3d3"/>
<rect x="571.00" y="190.00" width="16.60" height="10.60" fill="#d3d3d3"/>
<rect x="587.00" y="190.00" width="16.60" height="10.60" fill="#fffa00"/>
<rect x="603.00" y="190.00" width="16.60" height="10.60" fill="#d3d3d3"/>
<rect x="619.00" y="190.00" width="16.60" height="10.60" fill="#d3d3d3"/>
<rect x="635.00" y="190.00" width="16.60" height="10.60" fill="#d3d3d3"/>
<rect x="523.00" y="200.00" width="16.60" height="10.60" fill="#e0df9e"/>
<rect x="539.00" y="200.00" width="16.60" height="10.60" fill="#d3d3d3"/>
<rect x="555.00" y="200.00" width="16.60" height="10.60" fill="#d3d3d3"/>
<rect x="571.00" y="200.00" width="16.60" height="10.60" fill="#d3d3d3"/>
<rect x="587.00" y="200.00" width="16.60" height="10.60" fill="#f2ee42"/>
<rect x="603.00" y="200.00" width="16.60" height="10.60" fill="#d3d3d3"/>
<rect x="619.00" y="200.00" width="16.60" height="10.60" fill="#f2ee42"/>
<rect x="635.00" y="200.00" width="16.60" height="10.60" fill="#d3d3d3"/>
<rect x="523.00" y="210.00" width="16.60" height="10.60" fill="#e0df9e"/>
<rect x="539.00" y="210.00" width="16.60" height="10.60" fill="#d3d3d3"/>
<rect x="555.00" y="210.00" width="16.60" height="10.60" fill="#d3d3d3"/>
<rect x="571.00" y="210.00" width="16.60" height="10.60" fill="#d3d3d3"/>
<rect x="587.00" y="210.00" width="16.60" height="10.60" fill="#f2ee42"/>
<rect x="603.00" y="210.00" width="16.60" height="10.60" fill="#e0df9e"/>
<rect x="619.00" y="210.00" width="16.60" height="10.60" fill="#e0df9e"/>
<rect x="635.00" y="210.00" width="16.60" height="10.60" fill="#d3d3d3"/>
<rect x="523.00" y="220.00" width="16.60" height="10.60" fill="#d7d7ca"/>
<rect x="539.00" y="220.00" width="16.60" height="10.60" fill="#d3d3d3"/>
<rect x="555.00" y="220.00" width="16.60" height="10.60" fill="#d3d3d3"/>
<rect x="571.00" y="220.00" width="16.60" height="10.60" fill="#f2ee42"/>
<rect x="587.00" y="220.00" width="16.60" height="10.60" fill="#f2ee42"/>
<rect x="603.00" y="220.00" width="16.60" height="10.60" fill="#d3d3d3"/>
<rect x="619.00" y="220.00" width="16.60" height="10.60" fill="#d3d3d3"/>
<rect x="635.00" y="220.00" width="16.60" height="10.60" fill="#d3d3d3"/>
<rect x="523.00" y="230.00" width="16.60" height="10.60" fill="#d3d3d3"/>
<rect x="539.00" y="230.00" width="16.60" height="10.60" fill="#e0df9e"/>
<rect x="555.00" y="230.00" width="16.60" height="10.60" fill="#f2ee42"/>
<rect x="571.00" y="230.00" width="16.60" height="10.60" fill="#d3d3d3"/>
<rect x="587.00" y="230.00" width="16.60" height="10.60" fill="#d3d3d3"/>
<rect x="603.00" y="230.00" width="16.60" height="10.60" fill="#fffa00"/>
<rect x="619.00" y="230.00" width="16.60" height="10.60" fill="#ff4600"/>
<rect x="635.00" y="230.00" width="16.60" height="10.60" fill="#d3d3d3"/>
<rect x="523.00" y="240.00" width="16.60" height="10.60" fill="#d3d3d3"/>
<rect x="539.00" y="240.00" width="16.60" height="10.60" fill="#e0df9e"/>
<rect x="555.00" y="240.00" width="16.60" height="10.60" fill="#d3d3d3"/>
<rect x="571.00" y="240.00" width="16.60" height="10.60" fill="#e7e57a"/>
<rect x="587.00" y="240.00" width="16.60" height="10.60" fill="#d3d3d3"/>
<rect x="603.00" y="240.00" width="16.60" height="10.60" fill="#fffa00"/>
<rect x="619.00" y="240.00" width="16.60" height="10.60" fill="#d3d3d3"/>
<rect x="635.00" y="240.00" width="16.60" height="10.60" fill="#ffa500"/>
<rect x="523.00" y="250.00" width="16.60" height="10.60" fill="#d3d3d3"/>
<rect x="539.00" y="250.00" width="16.60" height="10.60" fill="#d3d3d3"/>
<rect x="555.00" y="250.00" width="16.60" height="10.60" fill="#d3d3d3"/>
<rect x="571.00" y="250.00" width="16.60" height="10.60" fill="#d3d3d3"/>
<rect x="587.00" y="250.00" width="16.60" height="10.60" fill="#d3d3d3"/>
<rect x="603.00" y="250.00" width="16.60" height="10.60" fill="#f2ee42"/>
<rect x="619.00" y="250.00" width="16.60" height="10.60" fill="#d3d3d3"/>
<rect x="635.00" y="250.00" width="16.60" height="10.60" fill="#e0df9e"/>
<rect x="523.00" y="260.00" width="16.60" height="10.60" fill="#d3d3d3"/>
<rect x="539.00" y="260.00" width="16.60" height="10.60" fill="#f2ee42"/>
<rect x="555.00" y="260.00" width="16.60" height="10.60" fill="#f2ee42"/>
<rect x="571.00" y="260.00" width="16.60" height="10.60" fill="#d3d3d3"/>
<rect x="587.00" y="260.00" width="16.60" height="10.60" fill="#d3d3d3"/>
<rect x="603.00" y="260.00" width="16.60" height="10.60" fill="#f2ee42"/>
<rect x="619.00" y="260.00" width="16.60" height="10.60" fill="#f2ee42"/>
<rect x="635.00" y="260.00" width="16.60" height="10.60" fill="#d3d3d3"/>
<rect x="523.00" y="270.00" width="16.60" height="10.60" fill="#d3d3d3"/>
<rect x="539.00" y="270.00" width="16.60" height="10.60" fill="#d3d3d3"/>
<rect x="555.00" y="270.00" width="16.60" height="10.60" fill="#eeea58"/>
<rect x="571.00" y="270.00" width="16.60" height="10.60" fill="#d3d3d3"/>
<rect x="587.00" y="270.00" width="16.60" height="10.60" fill="#d3d3d3"/>
<rect x="603.00" y="270.00" width="16.60" height="10.60" fill="#d3d3d3"/>
<rect x="619.00" y="270.00" width="16.60" height="10.60" fill="#f2ee42"/>
<rect x="635.00" y="270.00" width="16.60" height="10.60" fill="#d3d3d3"/>
<rect x="523.00" y="280.00" width="16.60" height="10.60" fill="#d3d3d3"/>
<rect x="539.00" y="280.00" width="16.60" height="10.60" fill="#d3d3d3"/>
<rect x="555.00" y="280.00" width="16.60" height="10.60" fill="#d3d3d3"/>
<rect x="571.00" y="280.00" width="16.60" height="10.60" fill="#e7e57a"/>
<rect x="587.00" y="280.00" width="16.60" height="10.60" fill="#e7e57a"/>
<rect x="603.00" y="280.00" width="16.60" height="10.60" fill="#e0df9e"/>
<rect x="619.00" y="280.00" width="16.60" height="10.60" fill="#d3d3d3"/>
<rect x="635.00" y="280.00" width="16.60" height="10.60" fill="#ffa500"/>
<rect x="523.00" y="290.00" width="16.60" height="10.60" fill="#d3d3d3"/>
<rect x="539.00" y="290.00" width="16.60" height="10.60" fill="#d3d3d3"/>
<rect x="555.00" y="290.00" width="16.60" height="10.60" fill="#d3d3d3"/>
<rect x="571.00" y="290.00" width="16.60" height="10.60" fill="#d3d3d3"/>
<rect x="587.00" y="290.00" width="16.60" height="10.60" fill="#d3d3d3"/>
<rect x="603.00" y="290.00" width="16.60" height="10.60" fill="#f2ee42"/>
<rect x="619.00" y="290.00" width="16.60" height="10.60" fill="#d3d3d3"/>
<rect x="635.00" y="290.00" width="16.60" height="10.60" fill="#fffa00"/>
<rect x="523.00" y="300.00" width="16.60" height="10.60" fill="#d3d3d3"/>
<rect x="539.00" y="300.00" width="16.60" height="10.60" fill="#d3d3d3"/>
<rect x="555.00" y="300.00" width="16.60" height="10.60" fill="#d3d3d3"/>
<rect x="571.00" y="300.00" width="16.60" height="10.60" fill="#d3d3d3"/>
<rect x="587.00" y="300.00" width="16.60" height="10.60" fill="#d3d3d3"/>
<rect x="603.00" y="300.00" width="16.60" height="10.60" fill="#f2ee42"/>
<rect x="619.00" y="300.00" width="16.60" height="10.60" fill="#d3d3d3"/>
<rect x="635.00" y="300.00" width="16.60" height="10.60" fill="#fffa00"/>
<rect x="523.00" y="310.00" width="16.60" height="10.60" fill="#d3d3d3"/>
<rect x="539.00" y="310.00" width="16.60" height="10.60" fill="#e0df9e"/>
<rect x="555.00" y="310.00" width="16.60" height="10.60" fill="#d3d3d3"/>
<rect x="571.00" y="310.00" width="16.60" height="10.60" fill="#d3d3d3"/>
<rect x="587.00" y="310.00" width="16.60" height="10.60" fill="#d3d3d3"/>
<rect x="603.00" y="310.00" width="16.60" height="10.60" fill="#e0df9e"/>
<rect x="619.00" y="310.00" width="16.60" height="10.60" fill="#d3d3d3"/>
<rect x="635.00" y="310.00" width="16.60" height="10.60" fill="#f2ee42"/>
<rect x="523.00" y="20.00" width="128.8" height="300.00" fill="none" stroke="#000" stroke-width="2"/>
<line x1="519.80" y1="25.00" x2="523.00" y2="25.00" stroke="#000" stroke-width="1.8"/>
<g transform="translate(517.6,27.10) scale(0.91,1)"><text x="0" y="0" text-anchor="end" font-family="Liberation Sans" font-weight="bold" font-size="7.85" fill="#1c1c1c" stroke="#1c1c1c" stroke-width="0.1">Phenylpropanoid biosynthesis</text></g>
<line x1="519.80" y1="35.00" x2="523.00" y2="35.00" stroke="#000" stroke-width="1.8"/>
<g transform="translate(517.6,37.10) scale(0.91,1)"><text x="0" y="0" text-anchor="end" font-family="Liberation Sans" font-weight="bold" font-size="7.85" fill="#1c1c1c" stroke="#1c1c1c" stroke-width="0.1">One carbon pool by folate</text></g>
<line x1="519.80" y1="45.00" x2="523.00" y2="45.00" stroke="#000" stroke-width="1.8"/>
<g transform="translate(517.6,47.10) scale(0.91,1)"><text x="0" y="0" text-anchor="end" font-family="Liberation Sans" font-weight="bold" font-size="7.85" fill="#1c1c1c" stroke="#1c1c1c" stroke-width="0.1">Biosynthesis of amino acids</text></g>
<line x1="519.80" y1="55.00" x2="523.00" y2="55.00" stroke="#000" stroke-width="1.8"/>
<g transform="translate(517.6,57.10) scale(0.91,1)"><text x="0" y="0" text-anchor="end" font-family="Liberation Sans" font-weight="bold" font-size="7.85" fill="#1c1c1c" stroke="#1c1c1c" stroke-width="0.1">Histidine metabolism</text></g>
<line x1="519.80" y1="65.00" x2="523.00" y2="65.00" stroke="#000" stroke-width="1.8"/>
<g transform="translate(517.6,67.10) scale(0.91,1)"><text x="0" y="0" text-anchor="end" font-family="Liberation Sans" font-weight="bold" font-size="7.85" fill="#1c1c1c" stroke="#1c1c1c" stroke-width="0.1">Ubiquinone and other terpenoid-quinone biosynthesis</text></g>
<line x1="519.80" y1="75.00" x2="523.00" y2="75.00" stroke="#000" stroke-width="1.8"/>
<g transform="translate(517.6,77.10) scale(0.91,1)"><text x="0" y="0" text-anchor="end" font-family="Liberation Sans" font-weight="bold" font-size="7.85" fill="#1c1c1c" stroke="#1c1c1c" stroke-width="0.1">Purine metabolism</text></g>
<line x1="519.80" y1="85.00" x2="523.00" y2="85.00" stroke="#000" stroke-width="1.8"/>
<g transform="translate(517.6,87.10) scale(0.91,1)"><text x="0" y="0" text-anchor="end" font-family="Liberation Sans" font-weight="bold" font-size="7.85" fill="#1c1c1c" stroke="#1c1c1c" stroke-width="0.1">Alanine</text></g>
<line x1="519.80" y1="95.00" x2="523.00" y2="95.00" stroke="#000" stroke-width="1.8"/>
<g transform="translate(517.6,97.10) scale(0.91,1)"><text x="0" y="0" text-anchor="end" font-family="Liberation Sans" font-weight="bold" font-size="7.85" fill="#1c1c1c" stroke="#1c1c1c" stroke-width="0.1">C5-Branched dibasic acid metabolism</text></g>
<line x1="519.80" y1="105.00" x2="523.00" y2="105.00" stroke="#000" stroke-width="1.8"/>
<g transform="translate(517.6,107.10) scale(0.91,1)"><text x="0" y="0" text-anchor="end" font-family="Liberation Sans" font-weight="bold" font-size="7.85" fill="#1c1c1c" stroke="#1c1c1c" stroke-width="0.1">Vitamin B6 metabolism</text></g>
<line x1="519.80" y1="115.00" x2="523.00" y2="115.00" stroke="#000" stroke-width="1.8"/>
<g transform="translate(517.6,117.10) scale(0.91,1)"><text x="0" y="0" text-anchor="end" font-family="Liberation Sans" font-weight="bold" font-size="7.85" fill="#1c1c1c" stroke="#1c1c1c" stroke-width="0.1">Valine</text></g>
<line x1="519.80" y1="125.00" x2="523.00" y2="125.00" stroke="#000" stroke-width="1.8"/>
<g transform="translate(517.6,127.10) scale(0.91,1)"><text x="0" y="0" text-anchor="end" font-family="Liberation Sans" font-weight="bold" font-size="7.85" fill="#1c1c1c" stroke="#1c1c1c" stroke-width="0.1">Lysine degradation</text></g>
<line x1="519.80" y1="135.00" x2="523.00" y2="135.00" stroke="#000" stroke-width="1.8"/>
<g transform="translate(517.6,137.10) scale(0.91,1)"><text x="0" y="0" text-anchor="end" font-family="Liberation Sans" font-weight="bold" font-size="7.85" fill="#1c1c1c" stroke="#1c1c1c" stroke-width="0.1">Tropane</text></g>
<line x1="519.80" y1="145.00" x2="523.00" y2="145.00" stroke="#000" stroke-width="1.8"/>
<g transform="translate(517.6,147.10) scale(0.91,1)"><text x="0" y="0" text-anchor="end" font-family="Liberation Sans" font-weight="bold" font-size="7.85" fill="#1c1c1c" stroke="#1c1c1c" stroke-width="0.1">Cysteine and methionine metabolism</text></g>
<line x1="519.80" y1="155.00" x2="523.00" y2="155.00" stroke="#000" stroke-width="1.8"/>
<g transform="translate(517.6,157.10) scale(0.91,1)"><text x="0" y="0" text-anchor="end" font-family="Liberation Sans" font-weight="bold" font-size="7.85" fill="#1c1c1c" stroke="#1c1c1c" stroke-width="0.1">Arginine and proline metabolism</text></g>
<line x1="519.80" y1="165.00" x2="523.00" y2="165.00" stroke="#000" stroke-width="1.8"/>
<text x="517.4" y="167.10" text-anchor="end" font-family="Liberation Serif" font-weight="bold" font-size="8.65" fill="#ff1010">Flavonoid biosynthesis</text>
<line x1="519.80" y1="175.00" x2="523.00" y2="175.00" stroke="#000" stroke-width="1.8"/>
<g transform="translate(517.6,177.10) scale(0.91,1)"><text x="0" y="0" text-anchor="end" font-family="Liberation Sans" font-weight="bold" font-size="7.85" fill="#1c1c1c" stroke="#1c1c1c" stroke-width="0.1">2-Oxocarboxylic acid metabolism</text></g>
<line x1="519.80" y1="185.00" x2="523.00" y2="185.00" stroke="#000" stroke-width="1.8"/>
<g transform="translate(517.6,187.10) scale(0.91,1)"><text x="0" y="0" text-anchor="end" font-family="Liberation Sans" font-weight="bold" font-size="7.85" fill="#1c1c1c" stroke="#1c1c1c" stroke-width="0.1">Monobactam biosynthesis</text></g>
<line x1="519.80" y1="195.00" x2="523.00" y2="195.00" stroke="#000" stroke-width="1.8"/>
<g transform="translate(517.6,197.10) scale(0.91,1)"><text x="0" y="0" text-anchor="end" font-family="Liberation Sans" font-weight="bold" font-size="7.85" fill="#1c1c1c" stroke="#1c1c1c" stroke-width="0.1">Arachidonic acid metabolism</text></g>
<line x1="519.80" y1="205.00" x2="523.00" y2="205.00" stroke="#000" stroke-width="1.8"/>
<g transform="translate(517.6,207.10) scale(0.91,1)"><text x="0" y="0" text-anchor="end" font-family="Liberation Sans" font-weight="bold" font-size="7.85" fill="#1c1c1c" stroke="#1c1c1c" stroke-width="0.1">Pentose phosphate pathway</text></g>
<line x1="519.80" y1="215.00" x2="523.00" y2="215.00" stroke="#000" stroke-width="1.8"/>
<g transform="translate(517.6,217.10) scale(0.91,1)"><text x="0" y="0" text-anchor="end" font-family="Liberation Sans" font-weight="bold" font-size="7.85" fill="#1c1c1c" stroke="#1c1c1c" stroke-width="0.1">Stilbenoid</text></g>
<line x1="519.80" y1="225.00" x2="523.00" y2="225.00" stroke="#000" stroke-width="1.8"/>
<g transform="translate(517.6,227.10) scale(0.91,1)"><text x="0" y="0" text-anchor="end" font-family="Liberation Sans" font-weight="bold" font-size="7.85" fill="#1c1c1c" stroke="#1c1c1c" stroke-width="0.1">Biosynthesis of secondary metabolites</text></g>
<line x1="519.80" y1="235.00" x2="523.00" y2="235.00" stroke="#000" stroke-width="1.8"/>
<g transform="translate(517.6,237.10) scale(0.91,1)"><text x="0" y="0" text-anchor="end" font-family="Liberation Sans" font-weight="bold" font-size="7.85" fill="#1c1c1c" stroke="#1c1c1c" stroke-width="0.1">Galactose metabolism</text></g>
<line x1="519.80" y1="245.00" x2="523.00" y2="245.00" stroke="#000" stroke-width="1.8"/>
<g transform="translate(517.6,247.10) scale(0.91,1)"><text x="0" y="0" text-anchor="end" font-family="Liberation Sans" font-weight="bold" font-size="7.85" fill="#1c1c1c" stroke="#1c1c1c" stroke-width="0.1">Fatty acid biosynthesis</text></g>
<line x1="519.80" y1="255.00" x2="523.00" y2="255.00" stroke="#000" stroke-width="1.8"/>
<g transform="translate(517.6,257.10) scale(0.91,1)"><text x="0" y="0" text-anchor="end" font-family="Liberation Sans" font-weight="bold" font-size="7.85" fill="#1c1c1c" stroke="#1c1c1c" stroke-width="0.1">Pyrimidine metabolism</text></g>
<line x1="519.80" y1="265.00" x2="523.00" y2="265.00" stroke="#000" stroke-width="1.8"/>
<g transform="translate(517.6,267.10) scale(0.91,1)"><text x="0" y="0" text-anchor="end" font-family="Liberation Sans" font-weight="bold" font-size="7.85" fill="#1c1c1c" stroke="#1c1c1c" stroke-width="0.1">Fructose and mannose metabolism</text></g>
<line x1="519.80" y1="275.00" x2="523.00" y2="275.00" stroke="#000" stroke-width="1.8"/>
<g transform="translate(517.6,277.10) scale(0.91,1)"><text x="0" y="0" text-anchor="end" font-family="Liberation Sans" font-weight="bold" font-size="7.85" fill="#1c1c1c" stroke="#1c1c1c" stroke-width="0.1">Glycolysis / Gluconeogenesis</text></g>
<line x1="519.80" y1="285.00" x2="523.00" y2="285.00" stroke="#000" stroke-width="1.8"/>
<g transform="translate(517.6,287.10) scale(0.91,1)"><text x="0" y="0" text-anchor="end" font-family="Liberation Sans" font-weight="bold" font-size="7.85" fill="#1c1c1c" stroke="#1c1c1c" stroke-width="0.1">alpha-Linolenic acid metabolism</text></g>
<line x1="519.80" y1="295.00" x2="523.00" y2="295.00" stroke="#000" stroke-width="1.8"/>
<g transform="translate(517.6,297.10) scale(0.91,1)"><text x="0" y="0" text-anchor="end" font-family="Liberation Sans" font-weight="bold" font-size="7.85" fill="#1c1c1c" stroke="#1c1c1c" stroke-width="0.1">Fatty acid elongation</text></g>
<line x1="519.80" y1="305.00" x2="523.00" y2="305.00" stroke="#000" stroke-width="1.8"/>
<g transform="translate(517.6,307.10) scale(0.91,1)"><text x="0" y="0" text-anchor="end" font-family="Liberation Sans" font-weight="bold" font-size="7.85" fill="#1c1c1c" stroke="#1c1c1c" stroke-width="0.1">Cutin</text></g>
<line x1="519.80" y1="315.00" x2="523.00" y2="315.00" stroke="#000" stroke-width="1.8"/>
<g transform="translate(517.6,317.10) scale(0.91,1)"><text x="0" y="0" text-anchor="end" font-family="Liberation Sans" font-weight="bold" font-size="7.85" fill="#1c1c1c" stroke="#1c1c1c" stroke-width="0.1">Fatty acid metabolism</text></g>
<line x1="531.00" y1="320.00" x2="531.00" y2="323.40" stroke="#000" stroke-width="1.4"/>
<text transform="translate(532.40,331.00) rotate(-45)" text-anchor="end" font-family="Liberation Sans" font-weight="bold" font-size="7.1" fill="#111" stroke="#111" stroke-width="0.12">ST_VS_SC_UP</text>
<line x1="547.00" y1="320.00" x2="547.00" y2="323.40" stroke="#000" stroke-width="1.4"/>
<text transform="translate(548.40,331.00) rotate(-45)" text-anchor="end" font-family="Liberation Sans" font-weight="bold" font-size="7.1" fill="#111" stroke="#111" stroke-width="0.12">ST_VS_SC_DOWN</text>
<line x1="563.00" y1="320.00" x2="563.00" y2="323.40" stroke="#000" stroke-width="1.4"/>
<text transform="translate(564.40,331.00) rotate(-45)" text-anchor="end" font-family="Liberation Sans" font-weight="bold" font-size="7.1" fill="#111" stroke="#111" stroke-width="0.12">RT_VS_RC_UP</text>
<line x1="579.00" y1="320.00" x2="579.00" y2="323.40" stroke="#000" stroke-width="1.4"/>
<text transform="translate(580.40,331.00) rotate(-45)" text-anchor="end" font-family="Liberation Sans" font-weight="bold" font-size="7.1" fill="#111" stroke="#111" stroke-width="0.12">RT_VS_RC_DOWN</text>
<line x1="595.00" y1="320.00" x2="595.00" y2="323.40" stroke="#000" stroke-width="1.4"/>
<text transform="translate(596.40,331.00) rotate(-45)" text-anchor="end" font-family="Liberation Sans" font-weight="bold" font-size="7.1" fill="#111" stroke="#111" stroke-width="0.12">RC_VS_SC_UP</text>
<line x1="611.00" y1="320.00" x2="611.00" y2="323.40" stroke="#000" stroke-width="1.4"/>
<text transform="translate(612.40,331.00) rotate(-45)" text-anchor="end" font-family="Liberation Sans" font-weight="bold" font-size="7.1" fill="#111" stroke="#111" stroke-width="0.12">RC_VS_SC_DOWN</text>
<line x1="627.00" y1="320.00" x2="627.00" y2="323.40" stroke="#000" stroke-width="1.4"/>
<text transform="translate(628.40,331.00) rotate(-45)" text-anchor="end" font-family="Liberation Sans" font-weight="bold" font-size="7.1" fill="#111" stroke="#111" stroke-width="0.12">RT_VS_ST_UP</text>
<line x1="643.00" y1="320.00" x2="643.00" y2="323.40" stroke="#000" stroke-width="1.4"/>
<text transform="translate(644.40,331.00) rotate(-45)" text-anchor="end" font-family="Liberation Sans" font-weight="bold" font-size="7.1" fill="#111" stroke="#111" stroke-width="0.12">RT_VS_ST_DOWN</text>
<text x="587.3" y="7.5" text-anchor="middle" font-family="Liberation Serif" font-weight="bold" font-size="9" fill="#1a1a1a">META_KEGG</text>
<text x="388" y="21.6" font-family="Liberation Serif" font-weight="bold" font-size="17" fill="#000">b</text>
<rect x="663.7" y="20.1" width="11.70" height="300.10" fill="url(#gr)" stroke="#333" stroke-width="1"/>
<text x="661" y="11.8" text-anchor="middle" font-family="Liberation Serif" font-weight="bold" font-size="7.6" fill="#1a1a1a">-log10(pvalue)</text>
<g transform="translate(679.5,323.40) scale(0.84,1)"><text x="0" y="0" font-family="Liberation Sans" font-size="9" fill="#444">0</text></g>
<line x1="663.7" y1="234.20" x2="665.9000000000001" y2="234.20" stroke="#111" stroke-width="1.2"/>
<line x1="673.1999999999999" y1="234.20" x2="675.4" y2="234.20" stroke="#111" stroke-width="1.2"/>
<g transform="translate(679.5,237.40) scale(0.84,1)"><text x="0" y="0" font-family="Liberation Sans" font-size="9" fill="#444">1</text></g>
<line x1="663.7" y1="148.20" x2="665.9000000000001" y2="148.20" stroke="#111" stroke-width="1.2"/>
<line x1="673.1999999999999" y1="148.20" x2="675.4" y2="148.20" stroke="#111" stroke-width="1.2"/>
<g transform="translate(679.5,151.40) scale(0.84,1)"><text x="0" y="0" font-family="Liberation Sans" font-size="9" fill="#444">2</text></g>
<line x1="663.7" y1="62.20" x2="665.9000000000001" y2="62.20" stroke="#111" stroke-width="1.2"/>
<line x1="673.1999999999999" y1="62.20" x2="675.4" y2="62.20" stroke="#111" stroke-width="1.2"/>
<g transform="translate(679.5,65.40) scale(0.84,1)"><text x="0" y="0" font-family="Liberation Sans" font-size="9" fill="#444">3</text></g>
</svg>
</body></html>
